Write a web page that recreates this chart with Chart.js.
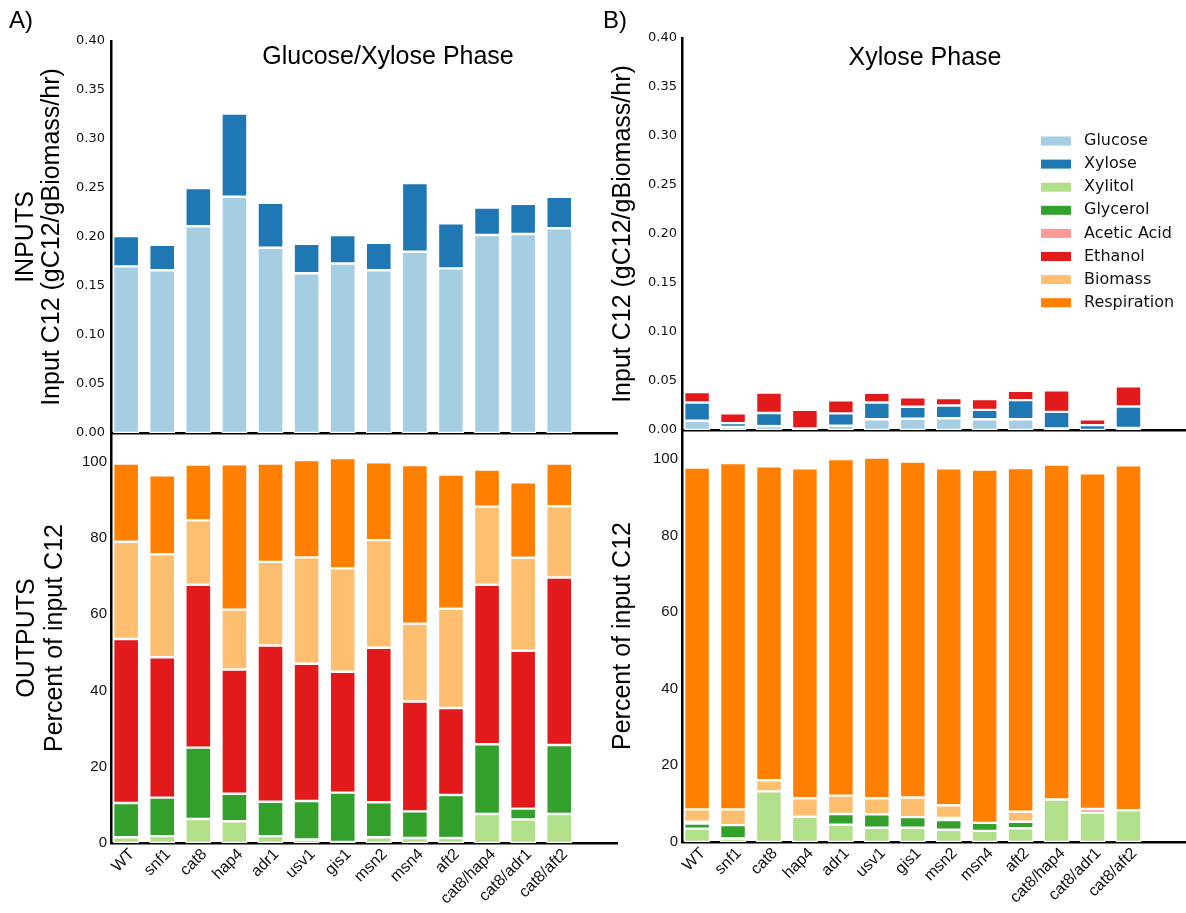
<!DOCTYPE html>
<html>
<head>
<meta charset="utf-8">
<script src="https://cdn.jsdelivr.net/npm/chart.js@4.4.1/dist/chart.umd.min.js"></script>
<style>
	body { margin: 0; background: #fff; }
	#wrap { position: relative; width: 1186px; height: 913px; overflow: hidden; }
	canvas { position: absolute; }
</style>
</head>
<body>
<div id="wrap">
	<canvas id="gxIn" width="620" height="453" style="left:0;top:0"></canvas>
	<canvas id="gxOut" width="620" height="500" style="left:0;top:413px"></canvas>
	<canvas id="xIn" width="596" height="450" style="left:590px;top:0"></canvas>
	<canvas id="xOut" width="596" height="503" style="left:590px;top:410px"></canvas>
</div>
<script>
var strains = ['WT', 'snf1', 'cat8', 'hap4', 'adr1', 'usv1', 'gis1', 'msn2', 'msn4', 'aft2', 'cat8/hap4', 'cat8/adr1', 'cat8/aft2'];

var legendNames = ['Glucose', 'Xylose', 'Xylitol', 'Glycerol', 'Acetic Acid', 'Ethanol', 'Biomass', 'Respiration'];
var legendColors = ['#a6cee3', '#1f78b4', '#b2df8a', '#33a02c', '#fb9a99', '#e31a1c', '#fdbf6f', '#ff7f00'];

// Glucose/Xylose phase, inputs (gC12/gBiomass/hr)
var gxGlucose = [0.170, 0.166, 0.211, 0.241, 0.189, 0.163, 0.173, 0.166, 0.185, 0.168, 0.202, 0.203, 0.209];
var gxXylose  = [0.031, 0.026, 0.039, 0.085, 0.046, 0.030, 0.029, 0.028, 0.070, 0.046, 0.028, 0.031, 0.032];

// Glucose/Xylose phase, outputs (% of input C12)
var gxXylitol     = [1.5, 1.8, 6.3, 5.7, 1.8, 0.9, 0.3, 1.5, 1.3, 1.3, 7.6, 6.2, 7.6];
var gxGlycerol    = [9.0, 10.1, 18.7, 7.2, 9.0, 10.1, 12.9, 9.2, 7.0, 11.3, 18.3, 2.8, 18.1];
var gxAcetic      = [0, 0, 0, 0, 0, 0, 0, 0, 0, 0, 0, 0, 0];
var gxEthanol     = [43.0, 36.8, 42.7, 32.6, 41.0, 36.0, 31.7, 40.5, 28.8, 22.8, 41.8, 41.4, 43.9];
var gxBiomass     = [25.5, 27.0, 16.9, 15.7, 21.9, 27.9, 27.1, 28.2, 20.4, 26.0, 20.5, 24.4, 18.7];
var gxRespiration = [20.5, 20.7, 14.6, 38.1, 25.8, 25.5, 28.9, 20.4, 41.6, 35.2, 9.7, 19.8, 11.2];

// Xylose phase, inputs
var xGlucose = [0.0095, 0.003, 0.004, 0, 0.0044, 0.011, 0.0115, 0.012, 0.011, 0.011, 0.0015, 0, 0.002];
var xXylose  = [0.0185, 0.004, 0.0133, 0.0015, 0.0126, 0.017, 0.0123, 0.013, 0.0095, 0.0195, 0.017, 0.005, 0.022];
var xEthanol = [0.0108, 0.010, 0.021, 0.019, 0.0133, 0.010, 0.0095, 0.0075, 0.011, 0.0095, 0.022, 0.006, 0.0205];

// Xylose phase, outputs
var xXylitol     = [3.5, 0.9, 13.2, 6.6, 4.5, 3.7, 3.7, 3.2, 2.9, 3.6, 11.1, 7.6, 8.3];
var xGlycerol    = [1.3, 3.5, 0, 0, 2.8, 3.5, 2.8, 2.5, 2.1, 1.7, 0, 0, 0];
var xAcetic      = [0.5, 0, 0, 0, 0, 0, 0, 0.6, 0, 0, 0, 1.0, 0];
var xEthanolOut  = [0, 0, 0, 0, 0, 0, 0, 0, 0, 0, 0, 0, 0];
var xBiomass     = [3.2, 4.1, 2.9, 4.8, 4.8, 4.2, 5.1, 3.3, 0, 2.6, 0, 0, 0];
var xRespiration = [89.2, 90.4, 81.9, 86.1, 87.8, 88.9, 87.7, 87.9, 92.2, 89.7, 87.4, 87.6, 90.0];

var inputTicks = [0, 0.05, 0.10, 0.15, 0.20, 0.25, 0.30, 0.35, 0.40];
var outputTicks = [0, 20, 40, 60, 80, 100];

function series(label, color, values) {
	return {
		label: label,
		backgroundColor: color,
		borderColor: '#fff',
		borderWidth: 1.2,
		borderSkipped: false,
		data: values.map(function (v, i) { return { x: i, y: v }; })
	};
}

function panel(id, datasets, o) {
	return new Chart(document.getElementById(id), {
		type: 'bar',
		data: { datasets: datasets },
		options: {
			responsive: false,
			animation: false,
			devicePixelRatio: 1,
			layout: { padding: { top: o.padTop, right: o.padRight, left: 0, bottom: 0 } },
			plugins: { legend: { display: false }, tooltip: { enabled: false } },
			scales: {
				x: {
					type: 'linear',
					min: -0.42,
					max: 13.6,
					offset: false,
					stacked: true,
					grid: { display: false, drawTicks: false },
					border: { color: '#000', width: 2.5 },
					ticks: {
						display: o.showLabels,
						autoSkip: false,
						maxRotation: 45,
						minRotation: 45,
						padding: 2,
						labelOffset: 6,
						color: '#111',
						font: { family: 'Liberation Sans', size: 16 },
						callback: function (v) { return strains[v] || ''; }
					},
					afterBuildTicks: function (s) {
						s.ticks = strains.map(function (n, i) { return { value: i }; });
					},
					afterFit: function (s) { s.height = o.xHeight; }
				},
				y: {
					stacked: true,
					min: 0,
					max: o.yMax,
					grid: { display: false, drawTicks: false },
					border: { color: '#000', width: 2.5 },
					ticks: {
						padding: o.tickPad,
						color: '#111',
						font: o.tickFont,
						callback: o.fmt
					},
					afterBuildTicks: function (s) {
						s.ticks = o.ticks.map(function (v) { return { value: v }; });
					},
					title: {
						display: true,
						text: o.title,
						color: '#000',
						font: { family: 'Liberation Sans', size: 25, lineHeight: o.titleLH },
						padding: { top: o.titlePad, bottom: 0 }
					},
					afterFit: function (s) { s.width = o.yWidth; }
				}
			}
		},
		plugins: o.extra ? [o.extra] : []
	});
}

var gxText = {
	id: 'gxText',
	afterDraw: function (chart) {
		var c = chart.ctx;
		c.save();
		c.fillStyle = '#000';
		c.textBaseline = 'middle';
		c.textAlign = 'left';
		c.font = '24px "Liberation Sans"';
		c.fillText('A)', 9, 21);
		c.textAlign = 'center';
		c.font = '25px "Liberation Sans"';
		c.fillText('Glucose/Xylose Phase', 388, 57);
		c.restore();
	}
};

var xText = {
	id: 'xText',
	afterDraw: function (chart) {
		var c = chart.ctx;
		c.save();
		c.fillStyle = '#000';
		c.textBaseline = 'middle';
		c.textAlign = 'left';
		c.font = '24px "Liberation Sans"';
		c.fillText('B)', 13, 21);
		c.textAlign = 'center';
		c.font = '25px "Liberation Sans"';
		c.fillText('Xylose Phase', 335, 58);
		// shared legend
		c.textAlign = 'left';
		c.font = '16px "DejaVu Sans"';
		for (var i = 0; i < legendNames.length; i++) {
			var y = 141 + i * 23.1;
			c.fillStyle = legendColors[i];
			c.fillRect(451, y - 4.5, 30, 9);
			c.fillStyle = '#111';
			c.fillText(legendNames[i], 494, y);
		}
		c.restore();
	}
};

var fmtIn = function (v) { return v.toFixed(2); };
var fmtOut = function (v) { return v; };
var smallFont = { family: 'DejaVu Sans', size: 13 };
var outFont = { family: 'Liberation Sans', size: 15 };

panel('gxIn', [
	series('Glucose', legendColors[0], gxGlucose),
	series('Xylose', legendColors[1], gxXylose)
], {
	padTop: 41, padRight: 3, xHeight: 20, yWidth: 111, yMax: 0.40, ticks: inputTicks,
	tickPad: 6, tickFont: smallFont, fmt: fmtIn, showLabels: false,
	title: ['INPUTS', 'Input C12 (gC12/gBiomass/hr)'], titleLH: 1.04, titlePad: 13, extra: gxText
});

panel('gxOut', [
	series('Xylitol', legendColors[2], gxXylitol),
	series('Glycerol', legendColors[3], gxGlycerol),
	series('Acetic Acid', legendColors[4], gxAcetic),
	series('Ethanol', legendColors[5], gxEthanol),
	series('Biomass', legendColors[6], gxBiomass),
	series('Respiration', legendColors[7], gxRespiration)
], {
	padTop: 20, padRight: 3, xHeight: 70, yWidth: 111, yMax: 107.5, ticks: outputTicks,
	tickPad: 4, tickFont: outFont, fmt: fmtOut, showLabels: true,
	title: ['OUTPUTS', 'Percent of input C12'], titleLH: 1.12, titlePad: 13
});

panel('xIn', [
	series('Glucose', legendColors[0], xGlucose),
	series('Xylose', legendColors[1], xXylose),
	series('Ethanol', legendColors[5], xEthanol)
], {
	padTop: 38, padRight: 0, xHeight: 20, yWidth: 92, yMax: 0.40, ticks: inputTicks,
	tickPad: 5, tickFont: smallFont, fmt: fmtIn, showLabels: false,
	title: 'Input C12 (gC12/gBiomass/hr)', titleLH: 1.1, titlePad: 19, extra: xText
});

panel('xOut', [
	series('Xylitol', legendColors[2], xXylitol),
	series('Glycerol', legendColors[3], xGlycerol),
	series('Acetic Acid', legendColors[4], xAcetic),
	series('Ethanol', legendColors[5], xEthanolOut),
	series('Biomass', legendColors[6], xBiomass),
	series('Respiration', legendColors[7], xRespiration)
], {
	padTop: 20, padRight: 0, xHeight: 71, yWidth: 92, yMax: 107.5, ticks: outputTicks,
	tickPad: 4, tickFont: outFont, fmt: fmtOut, showLabels: true,
	title: 'Percent of input C12', titleLH: 1.1, titlePad: 19
});
</script>
</body>
</html>
